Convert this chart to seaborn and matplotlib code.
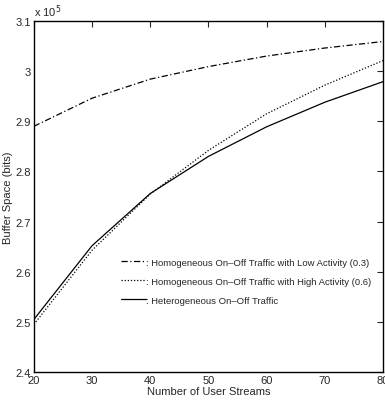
import numpy as np
import pandas as pd
import matplotlib
matplotlib.use('Agg')
import matplotlib.pyplot as plt
import seaborn as sns
from matplotlib.ticker import FuncFormatter

sns.set_style('white')
plt.rcParams['font.family'] = ['Liberation Sans', 'DejaVu Sans']

# 데이터
streams = [20, 30, 40, 50, 60, 70, 80]
low_activity = [2.890, 2.946, 2.984, 3.009, 3.030, 3.046, 3.059]
high_activity = [2.495, 2.643, 2.755, 2.842, 2.915, 2.972, 3.021]
heterogeneous = [2.505, 2.652, 2.756, 2.830, 2.889, 2.938, 2.979]

labels = [': Homogeneous On\u2013Off Traffic with Low Activity (0.3)',
          ': Homogeneous On\u2013Off Traffic with High Activity (0.6)',
          ': Heterogeneous On\u2013Off Traffic']

df = pd.DataFrame({
    'streams': streams * 3,
    'buffer': np.array(low_activity + high_activity + heterogeneous) * 1e5,
    'series': [labels[0]] * 7 + [labels[1]] * 7 + [labels[2]] * 7,
})

fig = plt.figure(figsize=(3.85, 4.06), dpi=100)
ax = fig.add_axes([0.088, 0.081, 0.907, 0.865])

styles = [(0, (5, 2, 1, 2)), (0, (1, 1.5)), '-']
for lab, ls in zip(labels, styles):
    sub = df[df['series'] == lab]
    sns.lineplot(data=sub, x='streams', y='buffer', ax=ax, color='black',
                 linestyle=ls, linewidth=0.9, label=lab)

ax.set_xlim(20, 80)
ax.set_ylim(2.4e5, 3.1e5)
ax.set_xticks(range(20, 81, 10))
ax.set_yticks(np.arange(2.4e5, 3.11e5, 0.1e5))
ax.yaxis.set_major_formatter(FuncFormatter(lambda v, p: f'{v / 1e5:g}'))
ax.tick_params(direction='in', top=True, right=True, labelsize=8, length=4, width=0.8, pad=2)
for s in ax.spines.values():
    s.set_linewidth(1.0)
    s.set_color('black')

ax.set_xlabel('Number of User Streams', fontsize=8, labelpad=1)
ax.set_ylabel('Buffer Space (bits)', fontsize=8, labelpad=2)
ax.text(0.0, 1.005, 'x 10$^5$', transform=ax.transAxes, fontsize=8, ha='left', va='bottom')

leg = ax.legend(loc='upper left', bbox_to_anchor=(0.225, 0.35), frameon=False,
                fontsize=6.8, handlelength=2.7, handletextpad=0.0, labelspacing=1.05)

plt.savefig('out.png', dpi=100)
